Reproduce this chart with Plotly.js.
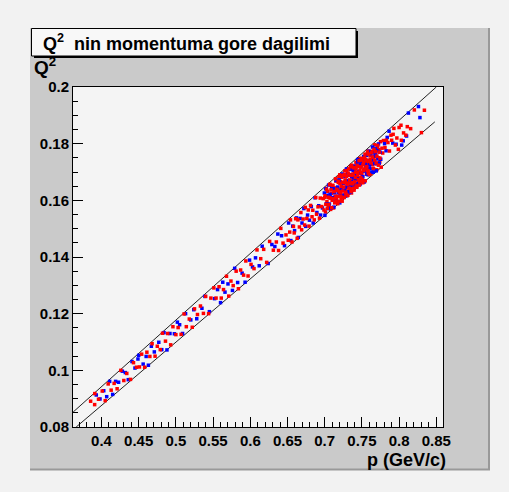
<!DOCTYPE html>
<html>
<head>
<meta charset="utf-8">
<script src="https://cdn.plot.ly/plotly-3.0.1.min.js"></script>
<style>html,body{margin:0;padding:0;background:#f2f2f2;}#chart{width:509px;height:492px;}</style>
</head>
<body>
<div id="chart"></div>
<script>
// ---- data: red points ----
var redX = [
0.3854,0.3908,0.391,0.396,0.401,0.405,0.409,0.413,0.417,0.421,0.426,0.430,0.434,0.439,0.443,0.447,
0.451,0.454,0.458,0.461,0.465,0.468,0.472,0.475,0.479,0.482,0.486,0.489,0.493,0.496,0.500,0.503,0.507,0.511,0.514,0.518,0.522,0.525,0.529,0.533,0.537,0.540,0.544,0.547,
0.551,0.554,0.558,0.561,0.564,0.568,0.571,0.574,0.577,0.581,0.584,0.587,0.591,0.594,0.597,0.601,0.605,0.609,0.614,0.618,0.622,0.626,0.631,0.635,0.638,0.641,0.644,0.648,
0.651,0.653,0.654,0.656,0.658,0.659,0.661,0.663,0.664,0.666,0.668,0.669,0.671,0.673,0.674,0.676,0.678,0.679,0.681,0.683,0.684,0.686,0.688,0.689,0.691,0.693,0.694,0.696,0.698,0.699,
0.700,0.701,0.702,0.703,0.704,0.705,0.706,0.707,0.708,0.709,0.710,0.711,0.712,0.713,0.714,0.715,0.716,0.717,0.718,0.719,
0.720,0.721,0.722,0.723,0.724,0.725,0.726,0.727,0.728,0.729,0.730,0.731,0.732,0.733,0.734,0.735,0.736,0.737,0.738,0.739,
0.740,0.741,0.742,0.743,0.744,0.745,0.746,0.747,0.748,0.749,0.750,0.751,0.752,0.753,0.754,0.755,0.756,0.757,0.758,0.759,
0.760,0.761,0.762,0.763,0.764,0.765,0.766,0.767,0.768,0.769,0.770,0.771,0.772,0.773,0.774,0.775,0.776,0.777,0.778,0.779,
0.7005,0.7015,0.7025,0.7035,0.7045,0.7055,0.7065,0.7075,0.7085,0.7095,0.7105,0.7115,0.7125,0.7135,0.7145,0.7155,0.7165,0.7175,0.7185,0.7195,
0.7205,0.7215,0.7225,0.7235,0.7245,0.7255,0.7265,0.7275,0.7285,0.7295,0.7305,0.7315,0.7325,0.7335,0.7345,0.7355,0.7365,0.7375,0.7385,0.7395,
0.7405,0.7415,0.7425,0.7435,0.7445,0.7455,0.7465,0.7475,0.7485,0.7495,0.7505,0.7515,0.7525,0.7535,0.7545,0.7555,0.7565,0.7575,0.7585,0.7595,
0.7152,0.7162,0.7172,0.7182,0.7192,0.7202,0.7212,0.7222,0.7232,0.7242,0.7252,0.7262,0.7272,0.7282,0.7292,0.7302,0.7312,0.7322,0.7332,0.7342,
0.7352,0.7362,0.7372,0.7382,0.7392,0.7402,0.7412,0.7422,0.7432,0.7442,0.7452,0.7462,0.7472,0.7482,0.7492,0.7502,0.7512,0.7522,0.7532,0.7542,
0.7552,0.7562,0.7572,0.7582,0.7592,0.7602,0.7612,0.7622,0.7632,0.7642,0.7652,0.7662,0.7672,0.7682,0.7692,0.7702,0.7712,0.7722,0.7732,0.7742,
0.781,0.783,0.785,0.787,0.789,0.790,0.792,0.793,0.795,0.797,0.799,0.800,0.8025,0.803,0.806,0.809,0.811,0.8155,0.8205,0.830,0.834];
var redY = [
0.0891,0.0879,0.0918,0.0898,0.0927,0.0893,0.0952,0.0930,0.0954,0.0935,0.1000,0.0964,0.0989,0.0968,0.1027,0.1011,
0.1012,0.1057,0.1011,0.1064,0.1049,0.1094,0.1050,0.1085,0.1073,0.1131,0.1103,0.1130,0.1090,0.1154,0.1126,0.1151,0.1127,0.1199,0.1154,0.1181,0.1152,0.1217,0.1197,0.1227,0.1201,0.1261,0.1200,0.1255,
0.1291,0.1255,0.1295,0.1255,0.1285,0.1332,0.1262,0.1315,0.1299,0.1350,0.1288,0.1354,0.1336,0.1386,0.1333,0.1374,0.1359,0.1425,0.1394,0.1427,0.1381,0.1455,0.1424,0.1453,0.1423,0.1501,0.1449,0.1478,
0.1459,0.1488,0.1531,0.1453,0.1508,0.1485,0.1535,0.1466,0.1531,0.1506,0.1557,0.1496,0.1534,0.1513,0.1575,0.1536,0.1566,0.1509,0.1582,0.1542,0.1565,0.1531,0.1610,0.1551,0.1577,0.1537,0.1608,0.1578,0.1606,0.1566,
0.1610,0.1559,0.1642,0.1595,0.1632,0.1580,0.1609,0.1657,0.1568,0.1625,0.1600,0.1652,0.1573,0.1644,0.1615,0.1668,0.1600,0.1640,0.1614,0.1683,
0.1636,0.1666,0.1603,0.1681,0.1635,0.1660,0.1619,0.1704,0.1638,0.1664,0.1616,0.1696,0.1659,0.1688,0.1643,0.1716,0.1626,0.1692,0.1676,0.1720,
0.1701,0.1650,0.1734,0.1686,0.1723,0.1671,0.1701,0.1748,0.1659,0.1717,0.1691,0.1743,0.1664,0.1736,0.1706,0.1759,0.1692,0.1731,0.1705,0.1774,
0.1728,0.1757,0.1694,0.1773,0.1726,0.1751,0.1710,0.1796,0.1729,0.1755,0.1708,0.1787,0.1750,0.1779,0.1735,0.1807,0.1717,0.1784,0.1767,0.1811,
0.1616,0.1586,0.1639,0.1572,0.1611,0.1585,0.1655,0.1608,0.1637,0.1574,0.1653,0.1606,0.1631,0.1591,0.1676,0.1609,0.1635,0.1588,0.1667,0.1630,
0.1660,0.1615,0.1687,0.1597,0.1664,0.1647,0.1691,0.1672,0.1622,0.1705,0.1657,0.1695,0.1643,0.1672,0.1719,0.1631,0.1688,0.1662,0.1715,0.1636,
0.1665,0.1699,0.1651,0.1723,0.1688,0.1719,0.1654,0.1705,0.1680,0.1748,0.1674,0.1725,0.1705,0.1750,0.1669,0.1740,0.1719,0.1771,0.1696,0.1738,
0.1597,0.1639,0.1614,0.1663,0.1596,0.1690,0.1628,0.1649,0.1610,0.1633,0.1688,0.1610,0.1662,0.1629,0.1685,0.1661,0.1618,0.1711,0.1659,0.1689,
0.1641,0.1724,0.1658,0.1692,0.1643,0.1716,0.1681,0.1711,0.1646,0.1698,0.1673,0.1740,0.1667,0.1718,0.1697,0.1742,0.1662,0.1733,0.1711,0.1763,
0.1745,0.1716,0.1739,0.1705,0.1763,0.1691,0.1744,0.1732,0.1768,0.1753,0.1713,0.1780,0.1742,0.1772,0.1732,0.1756,0.1794,0.1724,0.1770,0.1749,
0.1786,0.1812,0.1804,0.1774,0.1830,0.1812,0.1833,0.1854,0.1795,0.1820,0.1780,0.1857,0.1865,0.1812,0.1838,0.1830,0.1860,0.1853,0.1919,0.1839,0.1918];

// ---- data: blue points ----
var blueX = [
0.393,0.398,0.403,0.407,0.411,0.415,0.419,0.423,0.428,0.432,0.436,0.441,0.445,0.449,
0.450,0.456,0.460,0.463,0.467,0.471,0.477,0.481,0.484,0.488,0.492,0.498,0.502,0.505,0.509,0.513,0.520,0.524,0.528,0.535,0.539,0.545,
0.552,0.556,0.560,0.563,0.566,0.570,0.576,0.579,0.583,0.589,0.593,0.599,0.603,0.607,0.612,0.616,0.624,0.629,0.633,0.637,0.642,0.646,
0.6515,0.6545,0.657,0.6595,0.662,0.6645,0.667,0.6695,0.672,0.6745,0.677,0.6795,0.682,0.6845,0.687,0.6895,0.692,0.6945,0.697,0.6995,
0.7003,0.7013,0.7023,0.7033,0.7043,0.7053,0.7063,0.7073,0.7083,0.7093,0.7103,0.7113,0.7123,0.7133,0.7143,0.7153,0.7163,0.7173,0.7183,0.7193,
0.7203,0.7213,0.7223,0.7233,0.7243,0.7253,0.7263,0.7273,0.7283,0.7293,0.7303,0.7313,0.7323,0.7333,0.7343,0.7353,0.7363,0.7373,0.7383,0.7393,
0.7403,0.7413,0.7423,0.7433,0.7443,0.7453,0.7463,0.7473,0.7483,0.7493,0.7503,0.7513,0.7523,0.7533,0.7543,0.7553,0.7563,0.7573,0.7583,0.7593,
0.7603,0.7613,0.7623,0.7633,0.7643,0.7653,0.7663,0.7673,0.7683,0.7693,0.7703,0.7713,0.7723,0.7733,0.7743,0.7753,
0.7208,0.7225,0.7242,0.7259,0.7276,0.7293,0.7310,0.7327,0.7344,0.7361,0.7378,0.7395,0.7412,0.7429,0.7446,
0.7463,0.7480,0.7497,0.7514,0.7531,0.7548,0.7565,0.7582,0.7599,0.7616,0.7633,0.7650,0.7667,0.7684,0.7701,
0.7805,0.7825,0.784,0.7865,0.7915,0.796,0.8035,0.8055,0.810,0.8125,0.826,0.828];
var blueY = [
0.0913,0.0899,0.0928,0.0907,0.0961,0.0915,0.0961,0.0958,0.0997,0.0992,0.0967,0.1031,0.1008,0.1040,
0.1053,0.1022,0.1049,0.1018,0.1085,0.1065,0.1099,0.1073,0.1133,0.1072,0.1130,0.1129,0.1170,0.1161,0.1130,0.1200,0.1178,0.1214,0.1182,0.1219,0.1261,0.1207,
0.1253,0.1285,0.1239,0.1311,0.1276,0.1305,0.1282,0.1360,0.1310,0.1343,0.1311,0.1389,0.1365,0.1397,0.1369,0.1438,0.1377,0.1444,0.1437,0.1481,0.1475,0.1440,
0.1520,0.1458,0.1509,0.1493,0.1538,0.1469,0.1536,0.1520,0.1571,0.1508,0.1548,0.1530,0.1578,0.1520,0.1609,0.1557,0.1581,0.1548,0.1573,0.1626,
0.1547,0.1641,0.1588,0.1618,0.1571,0.1654,0.1587,0.1621,0.1573,0.1645,0.1610,0.1641,0.1576,0.1627,0.1602,0.1670,0.1596,0.1647,0.1627,0.1672,
0.1591,0.1662,0.1641,0.1693,0.1618,0.1660,0.1635,0.1684,0.1616,0.1711,0.1649,0.1670,0.1631,0.1654,0.1709,0.1630,0.1683,0.1650,0.1706,0.1681,
0.1721,0.1674,0.1699,0.1659,0.1744,0.1677,0.1703,0.1656,0.1735,0.1698,0.1728,0.1683,0.1755,0.1665,0.1732,0.1715,0.1759,0.1741,0.1690,0.1773,
0.1725,0.1763,0.1711,0.1740,0.1788,0.1699,0.1756,0.1730,0.1783,0.1704,0.1775,0.1746,0.1799,0.1731,0.1770,0.1745,
0.1620,0.1647,0.1689,0.1616,0.1666,0.1647,0.1693,0.1627,0.1690,0.1667,0.1714,0.1658,0.1694,0.1674,0.1735,
0.1696,0.1723,0.1672,0.1741,0.1703,0.1727,0.1694,0.1769,0.1714,0.1737,0.1699,0.1768,0.1739,0.1766,0.1730,
0.1800,0.1775,0.1822,0.1844,0.1802,0.1798,0.1795,0.1810,0.1827,0.1908,0.1931,0.1892];

// band limit lines (end points)
var upperLineX = [0.362, 0.85];
var upperLineY = [0.0853, 0.2];
var lowerLineX = [0.366, 0.848];
var lowerLineY = [0.08, 0.1877];

var xRange = [0.3617, 0.859];
var yRange = [0.08, 0.2];
var titleText = 'Q<sup>2</sup>\u00a0\u00a0nin momentuma gore dagilimi';
var xTitle = 'p (GeV/c)';
var yTitle = 'Q<sup>2</sup>';

// ---- layout helpers (pixel -> paper) ----
var W = 509, H = 492, ML = 73, MR = 66, MT = 87, MB = 65;
var PW = W - ML - MR, PH = H - MT - MB;
function px(x) { return (x - ML) / PW; }
function py(y) { return (H - MB - y) / PH; }

var FONT = 'Liberation Sans, Arial, Helvetica, sans-serif';

// drawing order: part of the red sample below the blue, the rest above
var RED_SPLIT_A = 102, RED_SPLIT_B = 182;
function redMarker() { return {symbol: 'square', size: 3.5, color: '#ff0000', line: {width: 0}}; }

var traces = [
  {x: upperLineX, y: upperLineY, mode: 'lines', line: {color: '#222', width: 1}, hoverinfo: 'skip'},
  {x: lowerLineX, y: lowerLineY, mode: 'lines', line: {color: '#222', width: 1}, hoverinfo: 'skip'},
  {x: redX.slice(RED_SPLIT_A, RED_SPLIT_B), y: redY.slice(RED_SPLIT_A, RED_SPLIT_B), mode: 'markers', marker: redMarker()},
  {x: blueX, y: blueY, mode: 'markers', marker: {symbol: 'square', size: 3.5, color: '#0000ff', line: {width: 0}}},
  {x: redX.slice(0, RED_SPLIT_A).concat(redX.slice(RED_SPLIT_B)), y: redY.slice(0, RED_SPLIT_A).concat(redY.slice(RED_SPLIT_B)), mode: 'markers', marker: redMarker()}
];

var axisCommon = {
  showgrid: false, zeroline: false, showline: true, linecolor: '#000', linewidth: 1,
  mirror: true, ticks: 'inside', tickcolor: '#000', ticklen: 10, tickwidth: 1,
  tickfont: {family: FONT, size: 15, color: '#000', weight: 'bold'},
  minor: {ticks: 'inside', ticklen: 5, tickcolor: '#000', tickwidth: 1}
};

var layout = {
  width: W, height: H,
  margin: {l: ML, r: MR, t: MT, b: MB, pad: 0},
  paper_bgcolor: '#f2f2f2',
  plot_bgcolor: 'rgba(0,0,0,0)',
  showlegend: false,
  xaxis: Object.assign({}, axisCommon, {range: xRange, dtick: 0.05, tick0: 0.4, minor: Object.assign({}, axisCommon.minor, {dtick: 0.01})}),
  yaxis: Object.assign({}, axisCommon, {range: yRange, dtick: 0.02, tick0: 0.08, minor: Object.assign({}, axisCommon.minor, {dtick: 0.005})}),
  shapes: [
    {type: 'rect', xref: 'paper', yref: 'paper', x0: px(30), x1: px(489), y0: py(469), y1: py(28), fillcolor: '#cacaca', line: {width: 0}, layer: 'below'},
    {type: 'line', xref: 'paper', yref: 'paper', x0: px(489), x1: px(489), y0: py(470), y1: py(28), line: {color: '#999', width: 2}, layer: 'below'},
    {type: 'line', xref: 'paper', yref: 'paper', x0: px(30), x1: px(490), y0: py(469.5), y1: py(469.5), line: {color: '#999', width: 2}, layer: 'below'},
    {type: 'rect', xref: 'paper', yref: 'paper', x0: 0, x1: 1, y0: 0, y1: 1, fillcolor: '#f4f4f4', line: {width: 0}, layer: 'below'},
    {type: 'rect', xref: 'paper', yref: 'paper', x0: px(34), x1: px(358), y0: py(58), y1: py(31), fillcolor: '#000', line: {width: 0}, layer: 'above'},
    {type: 'rect', xref: 'paper', yref: 'paper', x0: px(31.5), x1: px(356), y0: py(56), y1: py(28.5), fillcolor: '#f8f8f8', line: {color: '#000', width: 1}, layer: 'above'}
  ],
  annotations: [
    {xref: 'paper', yref: 'paper', x: px(41), y: py(42.5), xanchor: 'left', yanchor: 'middle', showarrow: false,
     text: titleText, font: {family: FONT, size: 18, color: '#000', weight: 'bold'}},
    {xref: 'paper', yref: 'paper', x: px(32), y: py(80), xanchor: 'left', yanchor: 'bottom', showarrow: false,
     text: yTitle, font: {family: FONT, size: 19, color: '#000', weight: 'bold'}},
    {xref: 'paper', yref: 'paper', x: px(448), y: py(447.5), xanchor: 'right', yanchor: 'top', showarrow: false,
     text: xTitle, font: {family: FONT, size: 18, color: '#000', weight: 'bold'}}
  ]
};

Plotly.newPlot('chart', traces, layout, {displayModeBar: false, staticPlot: true});
</script>
</body>
</html>
